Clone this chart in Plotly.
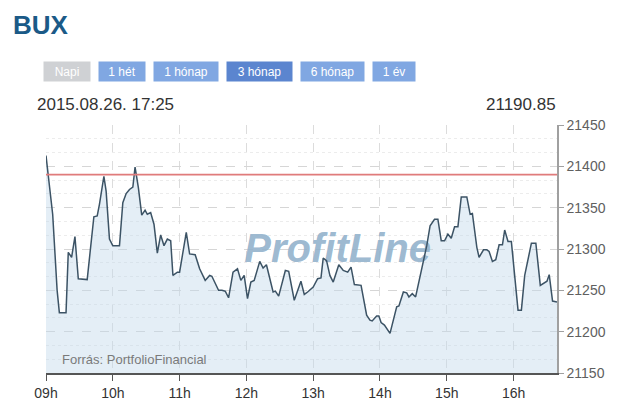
import plotly.graph_objects as go

# BUX intraday, 2015.08.26
day = "2015-08-26"
times = [
    "09:00", "09:06", "09:10", "09:12", "09:18", "09:20", "09:23", "09:26", "09:29", "09:37",
    "09:43", "09:46", "09:48", "09:52", "09:54", "09:57", "10:00", "10:06", "10:09", "10:12",
    "10:15", "10:18", "10:20", "10:23", "10:26", "10:29", "10:31", "10:34", "10:37", "10:40",
    "10:43", "10:46", "10:49", "10:52", "10:54", "10:58", "11:00", "11:06", "11:09", "11:14",
    "11:18", "11:23", "11:27", "11:29", "11:35", "11:38", "11:41", "11:44", "11:48", "11:52",
    "11:55", "11:58", "12:01", "12:04", "12:07", "12:12", "12:15", "12:18", "12:24", "12:26",
    "12:29", "12:35", "12:38", "12:43", "12:49", "12:52", "12:55", "13:00", "13:04", "13:07",
    "13:09", "13:12", "13:15", "13:18", "13:23", "13:27", "13:31", "13:34", "13:37", "13:43",
    "13:48", "13:51", "13:53", "13:57", "13:59", "14:01", "14:04", "14:09", "14:15", "14:17",
    "14:21", "14:24", "14:26", "14:29", "14:32", "14:36", "14:39", "14:42", "14:45", "14:49",
    "14:52", "14:55", "14:58", "15:01", "15:04", "15:07", "15:10", "15:13", "15:18", "15:21",
    "15:23", "15:27", "15:29", "15:33", "15:36", "15:38", "15:41", "15:44", "15:47", "15:50",
    "15:52", "15:55", "15:58", "16:04", "16:07", "16:10", "16:16", "16:20", "16:24", "16:27",
    "16:30", "16:32", "16:35", "16:39",
]
values = [
    21413, 21342, 21250, 21223, 21223, 21296, 21290, 21315, 21264, 21263,
    21339, 21340, 21354, 21388, 21370, 21312, 21304, 21304, 21356, 21367,
    21372, 21375, 21399, 21374, 21341, 21347, 21342, 21344, 21330, 21295,
    21317, 21304, 21312, 21310, 21268, 21272, 21272, 21320, 21294, 21293,
    21276, 21262, 21268, 21267, 21250, 21250, 21249, 21241, 21272, 21276,
    21262, 21268, 21240, 21260, 21262, 21285, 21277, 21281, 21248, 21249,
    21243, 21274, 21273, 21238, 21261, 21245, 21248, 21254, 21264, 21265,
    21289, 21286, 21268, 21260, 21281, 21274, 21272, 21278, 21257, 21256,
    21220, 21214, 21213, 21219, 21219, 21211, 21208, 21198, 21230, 21231,
    21248, 21247, 21242, 21246, 21242, 21268, 21284, 21304, 21328, 21336,
    21336, 21310, 21310, 21318, 21313, 21327, 21327, 21363, 21363, 21342,
    21343, 21302, 21290, 21299, 21299, 21297, 21285, 21287, 21305, 21305,
    21323, 21309, 21309, 21226, 21226, 21268, 21307, 21307, 21256, 21259,
    21261, 21269, 21237, 21236,
]
prev_close = 21390
y_range = [21150, 21450]
x_range = ["09:00", "16:39"]

buttons = ["Napi", "1 hét", "1 hónap", "3 hónap", "6 hónap", "1 év"]
button_colors = ["#cfd1d4", "#80a7e2", "#80a7e2", "#5b85cf", "#80a7e2", "#80a7e2"]
last_time = "2015.08.26. 17:25"
last_value = "21190.85"
source = "Forrás: PortfolioFinancial"
watermark = "ProfitLine"
watermark_at = ("13:22", 21296)

FONT = "Liberation Sans, Arial, sans-serif"
PAGE = 8  # default body margin of the page the figure is placed in
W, H = 618 - PAGE, 413 - PAGE
L, R, T, B = 46 - PAGE, 60.5, 125 - PAGE, 38
pw, ph = W - L - R, H - T - B


def px(x, y):
    # page pixel -> paper coords of the plot area
    return (x - PAGE - L) / pw, (H - B - (y - PAGE)) / ph


xs = [f"{day} {t}" for t in times]

fig = go.Figure()

fig.add_trace(go.Scatter(
    x=xs, y=values, mode="lines", line=dict(width=0),
    fill="tozeroy", fillcolor="rgba(196,218,236,0.45)",
    hoverinfo="skip", showlegend=False,
))

fig.add_trace(go.Scatter(
    x=[f"{day} {watermark_at[0]}"], y=[watermark_at[1]], mode="text",
    text=[f"<b><i>{watermark}</i></b>"],
    textfont=dict(family=FONT, size=40, color="rgba(145,177,203,0.9)"),
    hoverinfo="skip", showlegend=False,
))

fig.add_trace(go.Scatter(
    x=xs, y=values, mode="lines",
    line=dict(color="#3c5365", width=1.5),
    name="BUX", showlegend=False,
))

fig.add_hline(y=prev_close, line=dict(color="#e07b7b", width=1.6))

# header texts and period buttons
ann = []
bx, by = px(12, PAGE)
ann.append(dict(x=bx, y=by, text="<b>BUX</b>", xanchor="left", yanchor="top",
                borderpad=0, font=dict(family=FONT, size=26, color="#1b5a87")))
btn_spans = [(44, 90), (99, 145), (154, 218), (227, 292), (301, 364), (373, 415)]
for label, color, (x0, x1) in zip(buttons, button_colors, btn_spans):
    cx, cy = px((x0 + x1) / 2, 71.5)
    ann.append(dict(x=cx, y=cy, text=label, xanchor="center", yanchor="middle",
                    width=x1 - x0, height=19, bgcolor=color, borderpad=0,
                    font=dict(family=FONT, size=12, color="white")))
dx, dy = px(35, 104)
ann.append(dict(x=dx, y=dy, text=last_time, xanchor="left", yanchor="middle",
                font=dict(family=FONT, size=17, color="#333333")))
vx, vy = px(559, 104)
ann.append(dict(x=vx, y=vy, text=last_value, xanchor="right", yanchor="middle",
                font=dict(family=FONT, size=17, color="#333333")))
sx, sy = px(60, 361)
ann.append(dict(x=sx, y=sy, text=source, xanchor="left", yanchor="middle",
                font=dict(family=FONT, size=13, color="#7a7a7a")))
for a in ann:
    a.update(xref="paper", yref="paper", showarrow=False)

fig.update_layout(
    width=W, height=H,
    margin=dict(l=L, r=R, t=T, b=B),
    paper_bgcolor="white", plot_bgcolor="white",
    font=dict(family=FONT, color="#333333"),
    annotations=ann,
    xaxis=dict(
        type="date",
        range=[f"{day} {x_range[0]}", f"{day} {x_range[1]}"],
        dtick=3600000, tickformat="%Hh",
        showline=True, linecolor="#555555", linewidth=1.5,
        ticks="outside", ticklen=6, tickcolor="#555555",
        tickfont=dict(size=14, color="#333333"),
        showgrid=True, gridcolor="#dcdcdc", griddash="dash", gridwidth=1,
        zeroline=False, fixedrange=True,
    ),
    yaxis=dict(
        range=y_range, dtick=50, side="right", tickformat="d",
        showline=True, linecolor="#a0a0a0", linewidth=1.5,
        ticks="outside", ticklen=5, tickcolor="#a0a0a0",
        tickfont=dict(size=14, color="#606060"),
        showgrid=True, gridcolor="#d6d6d6", griddash="dash", gridwidth=1,
        minor=dict(dtick=50 / 3, showgrid=True, gridcolor="#ececec",
                   griddash="dot", gridwidth=1),
        zeroline=False, fixedrange=True,
    ),
    yaxis2=dict(
        range=y_range, overlaying="y", side="right",
        tick0=21175, dtick=50, ticks="inside", ticklen=3,
        tickcolor="#e05555", tickwidth=1.2,
        showticklabels=False, showgrid=False, showline=False, zeroline=False,
    ),
)

fig.write_html("out.html")
